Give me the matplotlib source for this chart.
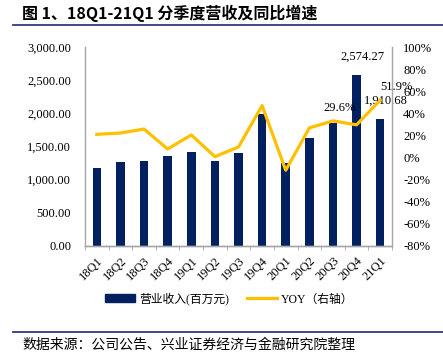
import numpy as np
import matplotlib
matplotlib.use('Agg')
from matplotlib import pyplot as plt
from matplotlib.lines import Line2D
from matplotlib.patches import Patch
from matplotlib.ticker import FuncFormatter

quarters = ['18Q1', '18Q2', '18Q3', '18Q4', '19Q1', '19Q2', '19Q3', '19Q4',
            '20Q1', '20Q2', '20Q3', '20Q4', '21Q1']
revenue = [1180, 1271, 1275, 1351, 1422, 1281, 1397, 1986,
           1258, 1624, 1861, 2574.27, 1910.68]
yoy = [21.0, 22.2, 25.8, 7.7, 20.5, 0.8, 9.6, 47.0,
       -11.5, 26.8, 33.2, 29.6, 51.9]

bar_labels = {11: '2,574.27', 12: '1,910.68'}
yoy_labels = {11: '29.6%', 12: '51.9%'}

NAVY = '#002060'
GOLD = '#FFC000'
SPINE = '#a6a6a6'
serif = ['Liberation Serif', 'Noto Sans CJK SC']
cjk = ['Noto Sans CJK SC', 'DejaVu Sans']

fig = plt.figure(figsize=(4.43, 3.61), dpi=100)
ax = fig.add_axes([85 / 443, 1 - 246 / 361, 307 / 443, 199 / 361])
ax2 = ax.twinx()

x = np.arange(len(quarters))
ax.bar(x, revenue, width=0.36, color=NAVY, zorder=2)
ax2.plot(x, yoy, color=GOLD, lw=2.3, zorder=3)

ax.set_xlim(-0.5, len(quarters) - 0.5)
ax.set_ylim(0, 3000)
ax.set_yticks(np.arange(0, 3001, 500))
ax.yaxis.set_major_formatter(FuncFormatter(lambda v, p: f'{v:,.2f}'))
ax2.set_ylim(-80, 100)
ax2.set_yticks(np.arange(-80, 101, 20))
ax2.yaxis.set_major_formatter(FuncFormatter(lambda v, p: f'{v:.0f}%'))

ax.set_xticks(x)
ax.set_xticklabels(quarters, rotation=45, ha='right', va='top',
                   rotation_mode='anchor', family=serif, fontsize=9)
ax.tick_params(axis='x', which='major', length=0, pad=6)
ax.set_xticks(np.arange(-0.5, len(quarters), 1), minor=True)
ax.tick_params(axis='x', which='minor', length=3, color=SPINE, direction='out')
ax.tick_params(axis='y', length=0, pad=10)
ax2.tick_params(axis='y', length=0, pad=8)
for lab in ax.get_yticklabels() + ax2.get_yticklabels():
    lab.set_family(serif)
    lab.set_fontsize(9)

for a in (ax, ax2):
    a.spines['top'].set_visible(False)
    for s in ('left', 'right', 'bottom'):
        a.spines[s].set_color(SPINE)
        a.spines[s].set_linewidth(1.0)
ax.spines['right'].set_visible(False)
ax2.spines['left'].set_visible(False)

for i, t in bar_labels.items():
    ax.annotate(t, (x[i], revenue[i]), xytext=(4, 9), textcoords='offset points',
                ha='center', va='bottom', family=serif, fontsize=9)
ax2.annotate(yoy_labels[11], (x[11], yoy[11]), xytext=(-12, 8),
             textcoords='offset points', ha='center', va='bottom',
             family=serif, fontsize=9)
ax2.annotate(yoy_labels[12], (x[12], yoy[12]), xytext=(12, 5),
             textcoords='offset points', ha='center', va='bottom',
             family=serif, fontsize=9)

handles = [Patch(color=NAVY), Line2D([], [], color=GOLD, lw=2.3)]
fig.legend(handles, ['营业收入(百万元)', 'YOY（右轴）'], loc='center',
           bbox_to_anchor=(229 / 443, 1 - 299 / 361), ncol=2, frameon=False,
           prop={'family': serif, 'size': 8.5}, handlelength=2.6,
           columnspacing=1.5, handletextpad=0.3)

# title and source with rules
fig.text(22 / 443, 1 - 13 / 361, '图 1、18Q1-21Q1 分季度营收及同比增速',
         family=cjk, fontsize=11.5, weight='bold', va='center')
fig.add_artist(Line2D([13 / 443, 1], [1 - 25 / 361] * 2, color='#2E3A7A', lw=1.3))
fig.add_artist(Line2D([13 / 443, 1], [1 - 332 / 361] * 2, color='#2E3A7A', lw=1.3))
fig.text(22 / 443, 1 - 345 / 361, '数据来源：公司公告、兴业证券经济与金融研究院整理',
         family=cjk, fontsize=10, va='center')

fig.savefig('out.png', dpi=100)
